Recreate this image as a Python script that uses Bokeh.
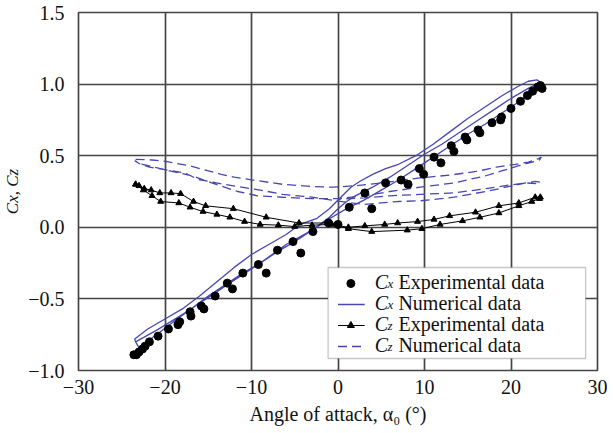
from bokeh.plotting import figure
from bokeh.models import FixedTicker, BoxAnnotation
from bokeh.core.properties import value
from bokeh.embed import file_html
from bokeh.resources import INLINE

# ---------------- data ----------------
x_ticks = [-30, -20, -10, 0, 10, 20, 30]
x_tick_labels = ["\u221230", "\u221220", "\u221210", "0", "10", "20", "30"]
y_ticks = [-1.0, -0.5, 0.0, 0.5, 1.0, 1.5]
y_tick_labels = ["\u22121.0", "\u22120.5", "0.0", "0.5", "1.0", "1.5"]

# Cx experimental (dots)
cx_exp_alpha = [-23.6, -23.3, -23.0, -22.6, -22.3, -21.8, -20.8, -19.6, -18.5, -18.3,
                -17.1, -17.0, -15.8, -15.5, -14.2, -12.8, -12.2, -11.0, -9.2, -8.3,
                -7.0, -5.2, -4.3, -2.9, -1.1, 0.0, 1.3, 3.1, 3.9, 5.5,
                7.3, 8.1, 9.4, 9.9, 11.1, 11.9, 13.1, 13.4, 14.7, 14.9,
                16.2, 16.4, 17.8, 18.9, 18.8, 20.0, 21.1, 21.9, 22.5, 23.1,
                23.4, 23.6]
cx_exp_value = [-0.89, -0.89, -0.87, -0.85, -0.83, -0.80, -0.76, -0.71, -0.68, -0.66,
                -0.59, -0.62, -0.55, -0.57, -0.48, -0.39, -0.43, -0.32, -0.26, -0.32,
                -0.16, -0.10, -0.18, -0.03, 0.03, 0.02, 0.14, 0.24, 0.13, 0.31,
                0.33, 0.30, 0.41, 0.37, 0.49, 0.45, 0.57, 0.53, 0.63, 0.61,
                0.68, 0.66, 0.73, 0.77, 0.75, 0.83, 0.88, 0.92, 0.95, 0.98,
                0.99, 0.97]

# Cx numerical (solid blue, hysteresis path)
cx_num_alpha = [-23.4, -23.0, -21, -19, -17, -15, -13, -11, -9, -7, -5, -3, -1, 1, 3, 5, 7, 9,
                11, 13, 15, 17, 19, 21, 22.5, 23.5,
                23.5, 23.0, 22.0, 21, 19, 17, 15, 13, 11, 9, 7, 5.5, 4, 2.5, 1.5, 0.5, -1,
                -2.5, -4.4, -6, -8, -10, -12, -14, -16, -18, -20, -22, -23.5,
                -23.4, -21, -18, -15, -12, -9, -6, -3, -1, 0, 1, 2, 4, 6, 8, 10, 12, 14,
                16, 18, 20, 22, 23.3]
cx_num_value = [-0.80, -0.84, -0.75, -0.66, -0.57, -0.48, -0.40, -0.32, -0.25, -0.17, -0.10,
                -0.02, 0.06, 0.13, 0.19, 0.26, 0.33, 0.41, 0.49, 0.57, 0.65, 0.72, 0.80,
                0.88, 0.95, 0.99,
                1.01, 1.03, 1.02, 0.99, 0.92, 0.84, 0.76, 0.67, 0.58, 0.50, 0.44, 0.41,
                0.37, 0.32, 0.28, 0.22, 0.13, 0.06, 0.02, -0.05, -0.12, -0.19, -0.28,
                -0.38, -0.48, -0.57, -0.64, -0.71, -0.78,
                -0.80, -0.72, -0.61, -0.49, -0.37, -0.25, -0.12, -0.02, 0.07, 0.13, 0.18,
                0.22, 0.28, 0.35, 0.43, 0.51, 0.58, 0.66, 0.74, 0.82, 0.90, 0.97, 1.01]

# Cz experimental (line with triangles)
cz_exp_alpha = [-23.4, -23.0, -22.4, -21.6, -20.6, -19.3, -18.2, -16.7, -15.3, -12.1,
                -8.3, -4.5, -1.0, 1.2, 3.9, 8.0, 9.7, 11.8, 14.4, 16.4, 18.6, 20.9,
                22.4, 23.3,
                23.4, 22.8, 20.9, 18.6, 15.9, 12.9, 11.1, 9.2, 6.9, 5.4, 3.1, 1.2,
                -0.7, -3.0, -5.0, -6.9, -9.0, -10.8, -12.5, -14.0, -15.6, -17.1,
                -18.4, -20.5, -21.5, -22.5, -23.4]
cz_exp_value = [0.30, 0.29, 0.27, 0.26, 0.24, 0.24, 0.235, 0.18, 0.15, 0.13,
                0.07, 0.03, 0.03, -0.01, -0.03, -0.02, -0.01, 0.02, 0.045, 0.07, 0.10,
                0.15, 0.18, 0.20,
                0.21, 0.21, 0.17, 0.15, 0.105, 0.08, 0.055, 0.04, 0.03, 0.02, 0.01, 0.0,
                0.02, 0.015, 0.005, 0.015, 0.02, 0.04, 0.07, 0.09, 0.11, 0.14,
                0.17, 0.18, 0.22, 0.26, 0.30]

# Cz numerical (dashed blue, hysteresis path)
cz_num_alpha = [-23.4, -21.5, -19.9, -17.2, -15.7, -13.5, -12, -9.8, -6.4, -3, -0.7, 2, 5,
                9.5, 13, 16, 18.3, 20.5, 22, 23.2, 23.5,
                23.3, 22.8, 20.9, 19, 17.1, 13.4, 9.5, 6, 3, 0, -3, -6.4, -9.3, -11.6,
                -14.6, -16.9, -19.2, -22.6, -23.5,
                -23.0, -21.8, -17.7, -16.2, -13.2, -9, -6.4, -3, -0.7, 1.5, 3.1, 5, 6.9,
                9.5, 13.4, 17.1, 19.8, 21.7, 22.8, 23.4, 23.0,
                21.7, 19.8, 17.1, 13.4, 9.5, 6, 3, 0]
cz_num_value = [0.475, 0.47, 0.46, 0.43, 0.405, 0.37, 0.35, 0.33, 0.30, 0.285, 0.28, 0.29,
                0.31, 0.345, 0.365, 0.39, 0.42, 0.44, 0.455, 0.48, 0.49,
                0.47, 0.46, 0.43, 0.395, 0.36, 0.31, 0.28, 0.25, 0.22, 0.20, 0.20, 0.21,
                0.22, 0.25, 0.31, 0.36, 0.39, 0.44, 0.465,
                0.445, 0.42, 0.38, 0.335, 0.30, 0.26, 0.23, 0.21, 0.19, 0.17, 0.16, 0.17,
                0.18, 0.185, 0.21, 0.25, 0.285, 0.31, 0.32, 0.315, 0.305,
                0.31, 0.295, 0.27, 0.24, 0.23, 0.22, 0.205, 0.195]

legend_labels = ["Experimental data", "Numerical data", "Experimental data", "Numerical data"]
legend_subs = ["x", "x", "z", "z"]

x_label = "Angle of attack, \u03b1\u2080 (\u00b0)"
y_label = "Cx, Cz"

# ---------------- styling ----------------
SERIF = "Liberation Serif"
BLUE = "#4646b4"
GRID = "#454545"
TXT = "#111111"

W, H = 613, 433
BL, BR, BT, BB = 73, 16, 12, 63
X0, X1, Y0, Y1 = -30, 30, -1.0, 1.5

p = figure(width=W, height=H, x_range=(X0, X1), y_range=(Y0, Y1),
           output_backend="svg", toolbar_location=None,
           min_border_left=BL, min_border_right=BR, min_border_top=BT, min_border_bottom=BB)
p.background_fill_color = "white"
p.border_fill_color = "white"
p.outline_line_color = GRID
p.outline_line_width = 1.7

p.xaxis.ticker = FixedTicker(ticks=x_ticks)
p.yaxis.ticker = FixedTicker(ticks=y_ticks)
p.xaxis.major_label_overrides = {t: s for t, s in zip(x_ticks, x_tick_labels)}
p.yaxis.major_label_overrides = {t: s for t, s in zip(y_ticks, y_tick_labels)}

for ax in (p.xaxis, p.yaxis):
    ax.axis_line_color = None
    ax.major_tick_line_color = None
    ax.minor_tick_line_color = None
    ax.major_label_text_font = SERIF
    ax.major_label_text_font_size = "20px"
    ax.major_label_text_color = TXT
    ax.axis_label_text_font = SERIF
    ax.axis_label_text_color = TXT

p.xaxis.major_label_standoff = 3
p.yaxis.major_label_standoff = 8
p.xaxis.axis_label = x_label
p.xaxis.axis_label_text_font_size = "20px"
p.xaxis.axis_label_text_font_style = "normal"
p.xaxis.axis_label_standoff = 6
p.yaxis.axis_label = y_label
p.yaxis.axis_label_text_font_size = "17px"
p.yaxis.axis_label_text_font_style = "italic"
p.yaxis.axis_label_standoff = 3

p.grid.grid_line_color = GRID
p.grid.grid_line_width = 1.7
p.grid.grid_line_alpha = 1.0


def px_to_x(px):
    return X0 + (px - BL) * (X1 - X0) / (W - BL - BR)


def py_to_y(py):
    return Y1 - (py - BT) * (Y1 - Y0) / (H - BT - BB)


# legend box geometry (pixels)
LEG_L, LEG_R, LEG_T, LEG_B = 325, 585, 267, 358
p.add_layout(BoxAnnotation(left=px_to_x(LEG_L), right=px_to_x(LEG_R),
                           top=py_to_y(LEG_T), bottom=py_to_y(LEG_B),
                           fill_color="white", fill_alpha=1.0,
                           line_color="#444444", line_width=1.3,
                           level="underlay", editable=False))

# ---------------- data glyphs ----------------
p.line(cz_num_alpha, cz_num_value, line_color=BLUE, line_width=1.3, line_dash="9 5")
p.line(cx_num_alpha, cx_num_value, line_color=BLUE, line_width=1.3)
p.line(cz_exp_alpha, cz_exp_value, line_color="black", line_width=1.0)
p.scatter(cz_exp_alpha, cz_exp_value, marker="triangle", size=6,
          fill_color="black", line_color="black")
p.scatter(cx_exp_alpha, cx_exp_value, marker="circle", size=8,
          fill_color="black", line_color="black")

# ---------------- legend (drawn by hand for italic C with subscripts) ----------------
rows = [283, 304, 325, 346]
g0, g1, gm = 335, 362, 348
# row 1: dot
p.scatter([px_to_x(gm)], [py_to_y(rows[0])], marker="circle", size=8,
          fill_color="black", line_color="black")
# row 2: solid blue line
p.line([px_to_x(g0), px_to_x(g1)], [py_to_y(rows[1])] * 2, line_color=BLUE, line_width=1.3)
# row 3: black line with triangle
p.line([px_to_x(g0), px_to_x(g1)], [py_to_y(rows[2])] * 2, line_color="black", line_width=1.0)
p.scatter([px_to_x(gm)], [py_to_y(rows[2])], marker="triangle", size=7,
          fill_color="black", line_color="black")
# row 4: dashed blue line
p.line([px_to_x(g0), px_to_x(g1)], [py_to_y(rows[3])] * 2, line_color=BLUE, line_width=1.3,
       line_dash="9 5")

p.text(x=[px_to_x(372)] * 4, y=[py_to_y(rc - 2) for rc in rows], text=["C"] * 4,
       text_font=value(SERIF), text_font_style="italic", text_font_size="20px",
       text_baseline="alphabetic", text_align="left", text_color=TXT)
p.text(x=[px_to_x(385)] * 4, y=[py_to_y(rc + 0) for rc in rows], text=legend_subs,
       text_font=value(SERIF), text_font_style="italic", text_font_size="13px",
       text_baseline="alphabetic", text_align="left", text_color=TXT)
p.text(x=[px_to_x(396)] * 4, y=[py_to_y(rc - 2) for rc in rows], text=legend_labels,
       text_font=value(SERIF), text_font_size="20px",
       text_baseline="alphabetic", text_align="left", text_color=TXT)

open("out.html", "w").write(file_html(p, INLINE))
